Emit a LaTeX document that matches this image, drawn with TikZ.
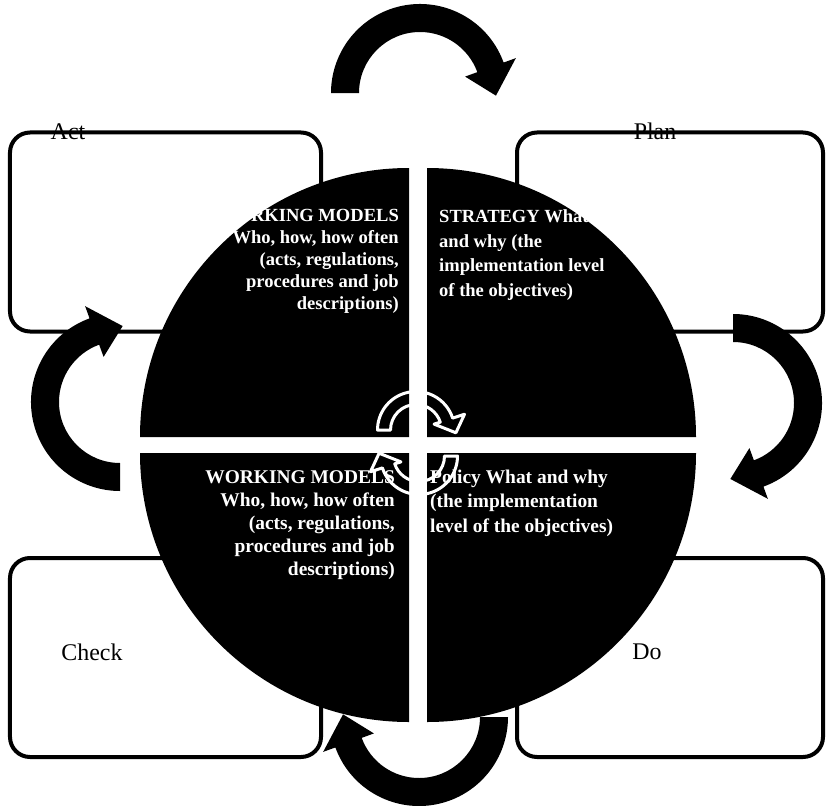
\documentclass[tikz,border=0pt]{standalone}
\usepackage{fontspec}
\setmainfont{Liberation Serif}
\usetikzlibrary{positioning}

\begin{document}
\begin{tikzpicture}[x=1bp, y=1bp,
    phasebox/.style={
        rectangle, rounded corners=20bp, draw=black, line width=4bp, fill=white,
        minimum width=#1, minimum height=199bp, inner sep=0pt
    },
    phaselabel/.style={
        font=\fontsize{24}{28}\selectfont, anchor=base, inner sep=0pt
    },
    quadrant/.style={
        fill=black
    },
    lefttext/.style={
        font=\fontsize{18.6}{22}\selectfont\bfseries, text=white,
        align=right, anchor=base east, inner sep=0pt
    },
    righttext/.style={
        font=\fontsize{18.6}{24.5}\selectfont\bfseries, text=white,
        align=left, anchor=base west, inner sep=0pt
    },
    bigarrow/.style={
        fill=black
    },
    smallarrow/.style={
        draw=white, line width=3bp, line join=round
    }
]
\useasboundingbox (0,0) rectangle (827,-806);

% Phase boxes (corners)
\node[phasebox=311bp] (act)   at (165.5,-232)   {};
\node[phasebox=306bp] (plan)  at (670,-232)     {};
\node[phasebox=311bp] (check) at (165.5,-657.5) {};
\node[phasebox=306bp] (do)    at (670,-657.5)   {};

\node[phaselabel] at ([xshift=60bp, yshift=-9bp]act.north west) {Act};
\node[phaselabel] at ([xshift=-15bp, yshift=-9bp]plan.north) {Plan};
\node[phaselabel] at ([xshift=84bp, yshift=-2.5bp]check.west) {Check};
\node[phaselabel] at ([xshift=-23bp, yshift=-1.5bp]do.center) {Do};

% Circle split into four quadrants
\fill[quadrant] (409,-437) -- ++(-269,0) arc[start angle=180, end angle=90, radius=269] -- cycle;
\fill[quadrant] (427,-437) -- ++(0,269) arc[start angle=90, end angle=0, radius=269] -- cycle;
\fill[quadrant] (427,-453) -- ++(269,0) arc[start angle=0, end angle=-90, radius=269] -- cycle;
\fill[quadrant] (409,-453) -- ++(0,-269) arc[start angle=270, end angle=180, radius=269] -- cycle;

% Quadrant texts (anchored on the last line)
\node[lefttext] (models1) at (399,-309) {WORKING MODELS\\Who, how, how often\\(acts, regulations,\\procedures and job\\descriptions)};
\node[righttext] (strategy) at (439,-296) {STRATEGY What\\and why (the\\implementation level\\of the objectives)};
\node[lefttext, font=\fontsize{19.5}{23}\selectfont\bfseries] (models2) at (395,-575) {WORKING MODELS\\Who, how, how often\\(acts, regulations,\\procedures and job\\descriptions)};
\node[righttext, font=\fontsize{19.5}{24.5}\selectfont\bfseries] (policy) at (430,-532) {Policy What and why\\(the implementation\\level of the objectives)};

% Small cycle arrows in the centre
\draw[smallarrow, shift={(416,-430)}] (180:25.5) arc[start angle=180, end angle=18, radius=25.5]
    -- (18:19) -- (-4:40) -- (18:51) -- (18:38.5) arc[start angle=18, end angle=180, radius=38.5] -- cycle;
\draw[smallarrow, shift={(419,-456)}] (0:25.5) arc[start angle=0, end angle=-162, radius=25.5]
    -- (-162:19) -- (-184:40) -- (-162:51) -- (-162:38.5) arc[start angle=-162, end angle=0, radius=38.5] -- cycle;

% Big arrows between the phases
\fill[bigarrow, shift={(420,-93)}] (180:61) arc[start angle=180, end angle=20, radius=61]
    -- (20:48) -- (-2:76) -- (20:102) -- (20:89) arc[start angle=20, end angle=180, radius=89] -- cycle;
\fill[bigarrow, shift={(733,-403)}] (90:61) arc[start angle=90, end angle=-70, radius=61]
    -- (-70:48) -- (-92:76) -- (-70:102) -- (-70:89) arc[start angle=-70, end angle=90, radius=89] -- cycle;
\fill[bigarrow, shift={(419,-717)}] (0:61) arc[start angle=0, end angle=-160, radius=61]
    -- (-160:48) -- (-182:76) -- (-160:102) -- (-160:89) arc[start angle=-160, end angle=0, radius=89] -- cycle;
\fill[bigarrow, shift={(120,-402)}] (-90:61) arc[start angle=-90, end angle=-250, radius=61]
    -- (-250:48) -- (-272:76) -- (-250:102) -- (-250:89) arc[start angle=-250, end angle=-90, radius=89] -- cycle;

\end{tikzpicture}
\end{document}
